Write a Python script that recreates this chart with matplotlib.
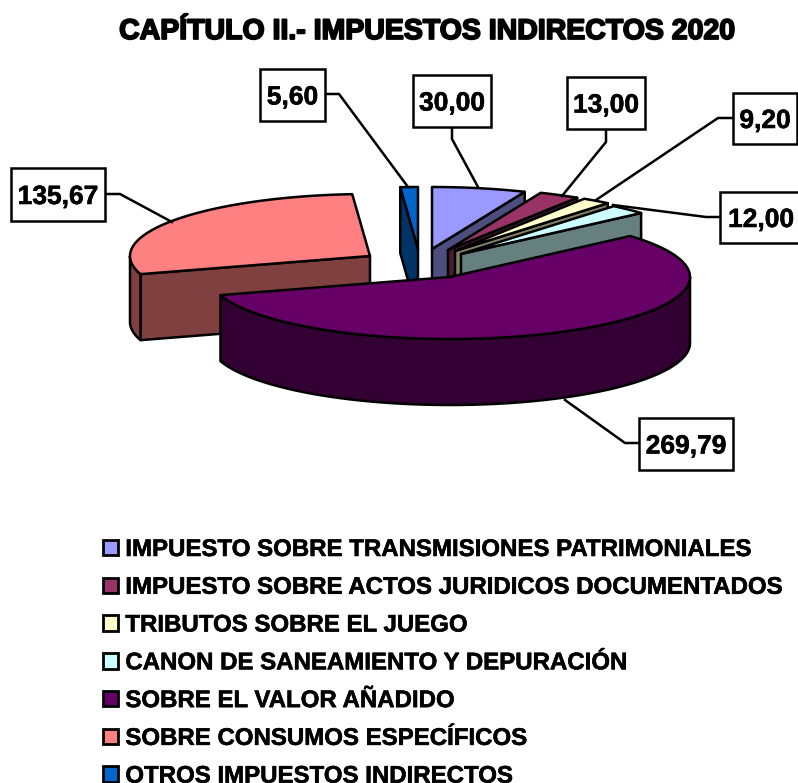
import numpy as np
import matplotlib
matplotlib.use('Agg')
import matplotlib.pyplot as plt
import matplotlib.patheffects as pe
from matplotlib.patches import Polygon, Rectangle, Patch

plt.rcParams['font.family'] = ['Liberation Sans', 'DejaVu Sans']
plt.rcParams['font.weight'] = 'bold'

TITLE = 'CAPÍTULO II.- IMPUESTOS INDIRECTOS 2020'
categories = [
    'IMPUESTO SOBRE TRANSMISIONES PATRIMONIALES',
    'IMPUESTO SOBRE ACTOS JURIDICOS DOCUMENTADOS',
    'TRIBUTOS SOBRE EL JUEGO',
    'CANON DE SANEAMIENTO Y DEPURACIÓN',
    'SOBRE EL VALOR AÑADIDO',
    'SOBRE CONSUMOS ESPECÍFICOS',
    'OTROS IMPUESTOS INDIRECTOS',
]
values = [30.00, 13.00, 9.20, 12.00, 269.79, 135.67, 5.60]
top_colors = ['#9999FF', '#993366', '#FFFFCC', '#CCFFFF', '#660066', '#FF8080', '#0066CC']
side_colors = ['#4D4D80', '#4D1A33', '#808066', '#668080', '#330033', '#804040', '#003366']

# layout, all in picture pixels
RX, RY, DEPTH = 240, 62, 66
LW = 1.8
apexes = [(432, 249), (448, 250), (455, 251), (461, 254), (450, 277), (370, 256), (418, 249)]
# x0, y0, x1, y1 of the label box
label_boxes = [
    (413, 75, 491, 127), (567, 77, 645, 129), (733, 93, 797, 144), (720, 192, 802, 243),
    (639, 418, 733, 470), (11, 168, 105, 221), (260, 69, 325, 121),
]
leaders = [
    [(452, 127), (452, 139), (478, 187)],
    [(606, 129), (606, 142), (562, 196)],
    [(733, 118), (718, 118), (596, 200)],
    [(720, 217), (706, 217), (613, 205)],
    [(639, 443), (625, 443), (565, 400)],
    [(105, 194), (120, 194), (172, 222)],
    [(326, 94), (339, 94), (408, 187)],
]


def rim(apex, a0, a1):
    # angles in degrees clockwise from 12 o'clock
    t = np.radians(np.linspace(a0, a1, max(int(abs(a1 - a0) * 2), 2)))
    return np.column_stack([apex[0] + RX * np.sin(t), apex[1] - RY * np.cos(t)])


def extrude(ax, pts, color, zorder):
    pts = np.asarray(pts)
    low = pts + [0, DEPTH]
    ax.add_patch(Polygon(np.vstack([pts, low[::-1]]), closed=True, facecolor=color,
                         edgecolor='black', lw=LW, joinstyle='round', zorder=zorder))


def draw_slice(ax, i, a0, a1, zorder):
    apex = apexes[i]
    arc = rim(apex, a0, a1)
    # cut faces that look at the viewer
    if i <= 3:
        extrude(ax, [arc[-1], apex], side_colors[i], zorder)
    if i in (5, 6):
        extrude(ax, [arc[0], apex], side_colors[i], zorder)
    # outer wall on the front half of the ellipse
    lo, hi = max(a0, 90), min(a1, 270)
    if lo < hi:
        extrude(ax, rim(apex, lo, hi), side_colors[i], zorder)
    ax.add_patch(Polygon(np.vstack([arc, [apex]]), closed=True, facecolor=top_colors[i],
                         edgecolor='black', lw=LW, joinstyle='round', zorder=zorder + 0.5))


fig = plt.figure(figsize=(7.98, 7.83), dpi=100)
ax = fig.add_axes([0, 0, 1, 1])
ax.set_xlim(0, 798)
ax.set_ylim(783, 0)
ax.axis('off')

edges = np.concatenate([[0], np.cumsum(values)]) / sum(values) * 360
for z, i in enumerate([6, 5, 0, 1, 2, 3, 4]):
    draw_slice(ax, i, edges[i], edges[i + 1], 2 + z)

heavier = [pe.withStroke(linewidth=0.4, foreground='black')]
for i, val in enumerate(values):
    x0, y0, x1, y1 = label_boxes[i]
    xs, ys = zip(*leaders[i])
    ax.plot(xs, ys, color='black', lw=LW, zorder=20)
    ax.add_patch(Rectangle((x0, y0), x1 - x0, y1 - y0, facecolor='white', edgecolor='black',
                           lw=LW, zorder=21))
    ax.text((x0 + x1) / 2, (y0 + y1) / 2, f'{val:.2f}'.replace('.', ','), fontsize=19,
            ha='center', va='center_baseline', zorder=22, path_effects=heavier)

ax.text(427, 32, TITLE, fontsize=20.5, ha='center', va='center',
        path_effects=[pe.withStroke(linewidth=1.3, foreground='black')])

handles = [Patch(facecolor=c, edgecolor='black', lw=2) for c in top_colors]
legend = ax.legend(handles, categories, loc='upper left', bbox_to_anchor=(103 / 798, 1 - 538 / 783),
                   frameon=False, fontsize=17.3, labelspacing=0.615, handlelength=0.62,
                   handleheight=0.62, handletextpad=0.31, borderpad=0, borderaxespad=0)
for text in legend.get_texts():
    text.set_path_effects(heavier)

fig.savefig('out.png', dpi=100)
